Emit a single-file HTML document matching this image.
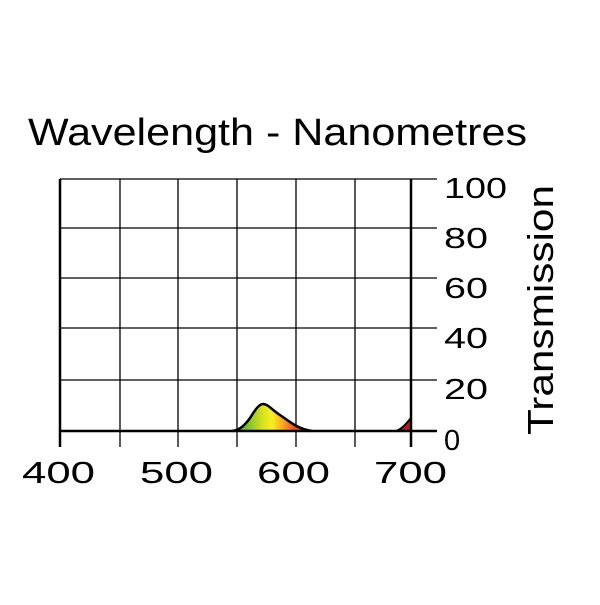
<!DOCTYPE html>
<html><head><style>body{margin:0;background:#fff}</style></head><body>
<svg width="600" height="600" xmlns="http://www.w3.org/2000/svg" font-family="Liberation Sans, sans-serif">
<defs><linearGradient id="g" x1="232" x2="312" gradientUnits="userSpaceOnUse">
<stop offset="0" stop-color="#2a9a2a"/><stop offset="0.2" stop-color="#7cc234"/><stop offset="0.38" stop-color="#d8e020"/><stop offset="0.5" stop-color="#f8f020"/><stop offset="0.62" stop-color="#f8b020"/><stop offset="0.78" stop-color="#f05020"/><stop offset="1" stop-color="#c03020"/></linearGradient></defs>
<rect width="600" height="600" fill="#fff"/>
<text x="28" y="145" font-size="38" textLength="499" lengthAdjust="spacingAndGlyphs">Wavelength - Nanometres</text>
<g stroke="#000" stroke-width="1.3">
<line x1="60" y1="179" x2="437" y2="179"/>
<line x1="60" y1="228" x2="437" y2="228"/>
<line x1="60" y1="278" x2="437" y2="278"/>
<line x1="60" y1="328" x2="437" y2="328"/>
<line x1="60" y1="380" x2="437" y2="380"/>
<line x1="120" y1="179" x2="120" y2="447"/>
<line x1="178" y1="179" x2="178" y2="447"/>
<line x1="237" y1="179" x2="237" y2="447"/>
<line x1="296" y1="179" x2="296" y2="447"/>
<line x1="355" y1="179" x2="355" y2="447"/>
</g>
<path d="M232,431 C240,430 245,425 250,418 C255,410 259,404 263,404 C268,404 272,410 280,415 C290,422 298,429 312,431 Z" fill="url(#g)"/>
<path d="M232,431 C240,430 245,425 250,418 C255,410 259,404 263,404 C268,404 272,410 280,415 C290,422 298,429 312,431" fill="none" stroke="#000" stroke-width="2.5"/>
<path d="M396,431 C402,429 406,424 411,418 L411,431 Z" fill="#b02020" stroke="#000" stroke-width="2"/>
<g stroke="#000" stroke-width="2.5">
<line x1="60" y1="179" x2="60" y2="447"/>
<line x1="411" y1="179" x2="411" y2="447"/>
<line x1="60" y1="431" x2="437" y2="431"/>
</g>
<g font-size="31">
<text x="22" y="483" textLength="73" lengthAdjust="spacingAndGlyphs">400</text><text x="140" y="483" textLength="73" lengthAdjust="spacingAndGlyphs">500</text><text x="257" y="483" textLength="73" lengthAdjust="spacingAndGlyphs">600</text><text x="374" y="483" textLength="73" lengthAdjust="spacingAndGlyphs">700</text>
</g>
<g font-size="29">
<text x="444" y="198" textLength="63" lengthAdjust="spacingAndGlyphs">100</text><text x="444" y="248" textLength="44" lengthAdjust="spacingAndGlyphs">80</text><text x="444" y="298" textLength="44" lengthAdjust="spacingAndGlyphs">60</text><text x="444" y="348" textLength="44" lengthAdjust="spacingAndGlyphs">40</text><text x="444" y="399" textLength="44" lengthAdjust="spacingAndGlyphs">20</text><text x="444" y="450">0</text></g>
<text transform="translate(553,310) rotate(-90)" text-anchor="middle" font-size="36" textLength="250" lengthAdjust="spacingAndGlyphs">Transmission</text>
</svg>
</body></html>
